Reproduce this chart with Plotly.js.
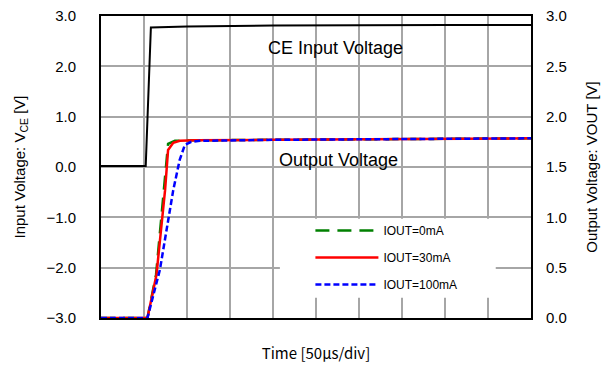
<!DOCTYPE html>
<html>
<head>
<meta charset="utf-8">
<script src="https://cdn.plot.ly/plotly-3.0.1.min.js"></script>
<style>html,body{margin:0;padding:0;background:#fff;}#chart{width:601px;height:365px;}</style>
</head>
<body>
<div id="chart"></div>
<script>
// Time in microseconds (50 us / div, 10 divisions)
const ceTime    = [0, 52, 58, 100, 200, 300, 400, 500];
const ceVoltage = [0.02, 0.02, 2.77, 2.79, 2.81, 2.82, 2.82, 2.82];

const out0Time  = [0, 54, 64, 72.5, 78, 86, 110, 200, 300, 400, 500];
const out0Volt  = [0, 0, 0.43, 1.27, 1.73, 1.76, 1.765, 1.77, 1.775, 1.78, 1.785];

const out30Time = [0, 54, 64.5, 74.5, 78, 84, 91.5, 110, 200, 300, 400, 500];
const out30Volt = [0, 0, 0.43, 1.27, 1.67, 1.74, 1.76, 1.765, 1.77, 1.775, 1.78, 1.785];

const out100Time = [0, 54, 68.5, 84, 91.5, 97.5, 105, 115, 200, 300, 400, 500];
const out100Volt = [0, 0, 0.48, 1.27, 1.57, 1.72, 1.75, 1.76, 1.77, 1.775, 1.78, 1.785];

const seriesNames = ["IOUT=0mA", "IOUT=30mA", "IOUT=100mA"];

const traces = [
  {x: ceTime, y: ceVoltage, yaxis: 'y', mode: 'lines', showlegend: false, name: 'CE',
   line: {color: '#000000', width: 2}},
  {x: out0Time, y: out0Volt, yaxis: 'y2', mode: 'lines', name: seriesNames[0], legendgroup: 'a',
   line: {color: '#008000', width: 2.5, dash: '14px,8px'}},
  {x: out30Time, y: out30Volt, yaxis: 'y2', mode: 'lines', name: seriesNames[1], legendgroup: 'b',
   line: {color: '#ff0000', width: 2.5}},
  {x: out100Time, y: out100Volt, yaxis: 'y2', mode: 'lines', name: seriesNames[2], legendgroup: 'c',
   line: {color: '#0000ff', width: 2.5, dash: '6px,3px'}}
];

const gridColor = '#a6a6a6';
const layout = {
  width: 601, height: 365,
  margin: {l: 101, r: 70, t: 16, b: 47},
  paper_bgcolor: '#ffffff', plot_bgcolor: '#ffffff',
  font: {family: 'Liberation Sans, Arial, sans-serif', color: '#000000', size: 15},
  showlegend: true,
  xaxis: {
    range: [0, 500], dtick: 50, tick0: 0, showticklabels: false, ticks: '',
    showgrid: true, gridcolor: gridColor, gridwidth: 2, zeroline: false,
    showline: true, mirror: true, linecolor: '#000000', linewidth: 2,
    title: {text: 'Time [50μs/div]', font: {family: 'Noto Sans CJK JP, sans-serif', size: 15}, standoff: 29}
  },
  yaxis: {
    range: [-3, 3], dtick: 1, tick0: 0, tickformat: '.1f', ticks: '',
    ticklabelstandoff: 20,
    showgrid: true, gridcolor: gridColor, gridwidth: 2, zeroline: false,
    showline: true, mirror: true, linecolor: '#000000', linewidth: 2,
    title: {text: 'Input Voltage: V<sub>CE</sub> [V]', font: {size: 15}, standoff: 17}
  },
  yaxis2: {
    range: [0, 3], dtick: 0.5, tick0: 0, tickformat: '.1f', ticks: '',
    ticklabelstandoff: 14,
    overlaying: 'y', side: 'right', showgrid: false, zeroline: false,
    title: {text: 'Output Voltage: VOUT [V]', font: {size: 15}, standoff: 20}
  },
  legend: {
    x: 0.487, xanchor: 'left', y: 0.338, yanchor: 'top',
    bgcolor: 'rgba(255,255,255,0)', borderwidth: 0,
    font: {size: 12}, itemwidth: 63, traceorder: 'grouped', tracegroupgap: 8
  },
  shapes: [
    {type: 'rect', xref: 'x', yref: 'y', x0: 208, x1: 459, y0: -1.03, y1: -2.6,
     fillcolor: '#ffffff', line: {width: 0}, layer: 'between'}
  ],
  annotations: [
    {text: 'CE Input Voltage', xref: 'x', yref: 'y', x: 273, y: 2.36, showarrow: false,
     font: {size: 18}},
    {text: 'Output Voltage', xref: 'x', yref: 'y2', x: 276, y: 1.57, showarrow: false,
     font: {size: 18}}
  ]
};

Plotly.newPlot('chart', traces, layout, {staticPlot: true, displayModeBar: false});
</script>
</body>
</html>
